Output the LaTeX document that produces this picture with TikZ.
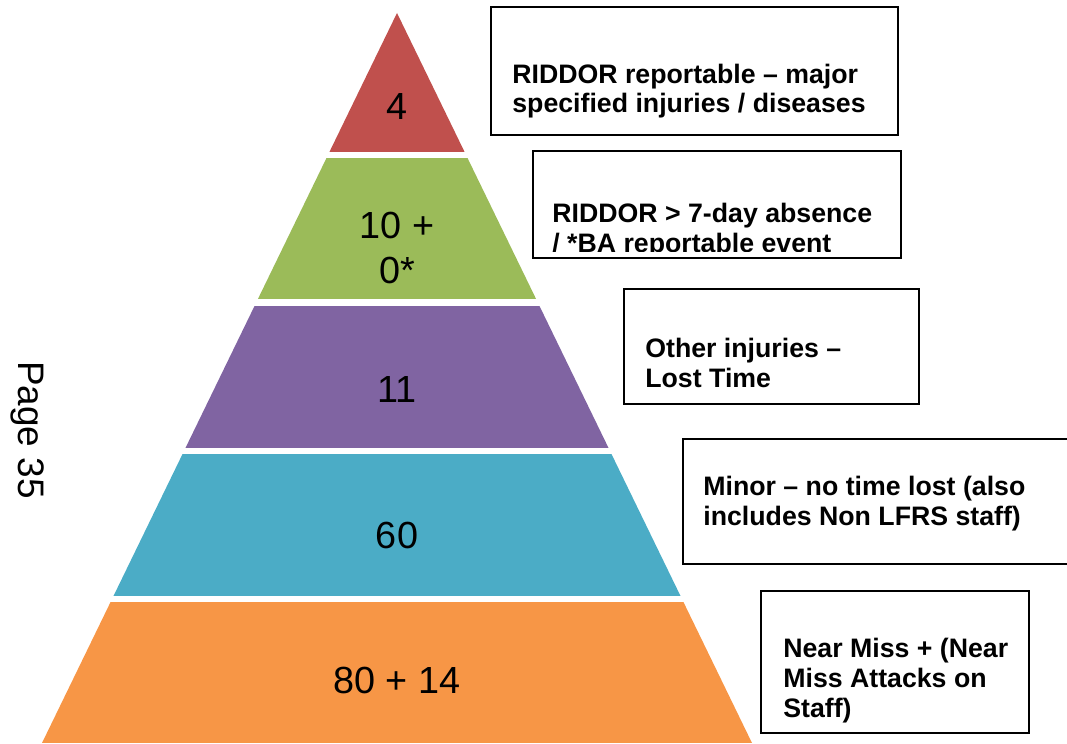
\documentclass[tikz,border=0pt]{standalone}
\usepackage{fontspec}
\setmainfont{Liberation Sans}
\usepackage{xcolor}
\usepackage{tikz}
\definecolor{tierred}{HTML}{C0504D}
\definecolor{tiergreen}{HTML}{9BBB59}
\definecolor{tierpurple}{HTML}{8064A2}
\definecolor{tierteal}{HTML}{4BACC6}
\definecolor{tierorange}{HTML}{F79646}

\begin{document}
\begin{tikzpicture}[
    x=0.02cm, y=-0.02cm,
    tier/.style={font=\fontsize{21.5}{26}\selectfont, align=center, inner sep=0pt},
    keybox/.style={draw=black, line width=0.9pt},
    keytext/.style={font=\bfseries\fontsize{15.2}{17}\selectfont, align=left, anchor=base west, inner sep=0pt}
]
\clip (0,0) rectangle (1067,743);

% pyramid bands
\begin{scope}
\clip (397,13) -- (752,743) -- (42,743) -- cycle;
\fill[tierred]    (0,0)   rectangle (1067,152);
\fill[tiergreen]  (0,158) rectangle (1067,299);
\fill[tierpurple] (0,306) rectangle (1067,448);
\fill[tierteal]   (0,454) rectangle (1067,596);
\fill[tierorange] (0,602) rectangle (1067,743);
\end{scope}

\node[tier] (nmajor)   at (397,107) {4};
\node[tier] (nabsence) at (397,248) {10 +\\0*};
\node[tier] (nlost)    at (397,390) {11};
\node[tier] (nminor)   at (397,535) {60};
\node[tier] (nnear)    at (397,680) {80 + 14};

% key boxes (text anchored on the last line)
\draw[keybox] (491,7) rectangle (898,135);
\node[keytext] (tmajor) at (512,113) {RIDDOR reportable – major\\specified injuries / diseases};

\begin{scope}
\clip (533,151) rectangle (901,251);
\node[keytext] (tabsence) at (552,252) {RIDDOR > 7-day absence\\/ *BA reportable event};
\end{scope}
\draw[keybox] (533,151) rectangle (901,258);

\draw[keybox] (624,289) rectangle (919,404);
\node[keytext] (tlost) at (645,387) {Other injuries –\\Lost Time};

\draw[keybox] (683,439) rectangle (1090,564);
\node[keytext] (tminor) at (703,525) {Minor – no time lost (also\\includes Non LFRS staff)};

\draw[keybox] (761,591) rectangle (1029,733);
\node[keytext] (tnear) at (783,717) {Near Miss + (Near\\Miss Attacks on\\Staff)};

\node[font=\fontsize{21}{24}\selectfont, rotate=-90] (pagenum) at (28,430) {Page 35};
\end{tikzpicture}
\end{document}
